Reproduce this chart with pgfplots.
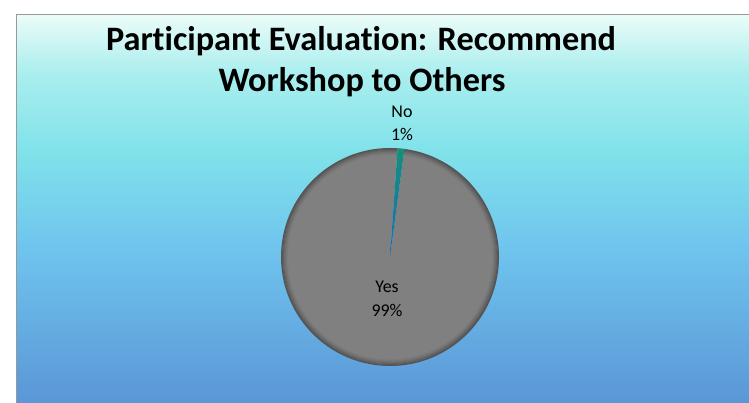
\documentclass[border=0pt]{standalone}
\usepackage{pgfplots}
\pgfplotsset{compat=1.18}
\usepackage{fontspec}
\setmainfont[Ligatures=NoCommon]{Carlito}
\definecolor{bgA}{HTML}{EAFCF8}
\definecolor{bgB}{HTML}{AAEEEE}
\definecolor{bgC}{HTML}{80E2EA}
\definecolor{bgD}{HTML}{6FC4EE}
\definecolor{bgE}{HTML}{5A96D6}
\definecolor{pieG}{HTML}{808080}
\definecolor{noTop}{HTML}{15907A}
\definecolor{noBot}{HTML}{2068B8}
\pgfdeclareverticalshading{bgshade}{100bp}{color(0bp)=(bgE); color(25bp)=(bgE); color(45bp)=(bgD); color(57.5bp)=(bgC); color(67.5bp)=(bgB); color(75bp)=(bgA); color(100bp)=(bgA)}
% data: category, value (percent)
\def\valNo{1}
\def\valYes{99}
\begin{document}
\begin{tikzpicture}[x=1bp,y=1bp]
\useasboundingbox (0,0) rectangle (749,402);
\begin{scope}
\clip (0,0) rectangle (749,402);
\shade[shading=bgshade] (17,-2) rectangle (760,387);
\draw[color=black!40, line width=1.6bp] (16.5,-5) -- (16.5,387.5) -- (765,387.5);
\end{scope}
\node[font=\bfseries\fontsize{34.4}{40}\selectfont, anchor=base] at (361,352) {Participant Evaluation: Recommend};
\node[font=\bfseries\fontsize{34.4}{40}\selectfont, anchor=base] at (362,311) {Workshop to Others};
\coordinate (pc) at (390bp,145bp);
\begin{axis}[at={(pc)}, anchor=origin, width=218bp, height=218bp, scale only axis,
  hide axis, xmin=-1, xmax=1, ymin=-1, ymax=1, clip=false]
  \pgfmathsetmacro{\start}{86}
  \pgfmathsetmacro{\unit}{360/(\valNo+\valYes)}
  \pgfmathsetmacro{\aNo}{\start-\unit*\valNo}
  \pgfmathsetmacro{\aYes}{\aNo-\unit*\valYes}
  \fill[pieG] (axis cs:0,0) -- (axis cs:{cos(\aNo)},{sin(\aNo)}) arc[start angle=\aNo, end angle=\aYes, radius=109bp] -- cycle;
  \draw[black, line width=1bp, opacity=0.32] (axis cs:0,0) circle[radius=108.5bp];
  \draw[black, line width=1bp, opacity=0.26] (axis cs:0,0) circle[radius=107.55bp];
  \draw[black, line width=1bp, opacity=0.20] (axis cs:0,0) circle[radius=106.6bp];
  \draw[black, line width=1bp, opacity=0.15] (axis cs:0,0) circle[radius=105.65bp];
  \draw[black, line width=1bp, opacity=0.10] (axis cs:0,0) circle[radius=104.7bp];
  \draw[black, line width=1bp, opacity=0.06] (axis cs:0,0) circle[radius=103.75bp];
  \draw[black, line width=1bp, opacity=0.03] (axis cs:0,0) circle[radius=102.8bp];
  \shade[top color=noTop, bottom color=noBot] (axis cs:0,0) -- (axis cs:{cos(\start)},{sin(\start)}) arc[start angle=\start, end angle=\aNo, radius=109bp] -- cycle;
\end{axis}
\node[font=\fontsize{18}{22}\selectfont, anchor=base] at (402,285) {No};
\node[font=\fontsize{18}{22}\selectfont, anchor=base] at (402,261.5) {1\%};
\node[font=\fontsize{18}{22}\selectfont, anchor=base] at (387,109.5) {Yes};
\node[font=\fontsize{18}{22}\selectfont, anchor=base] at (387,86) {99\%};
\end{tikzpicture}
\end{document}
